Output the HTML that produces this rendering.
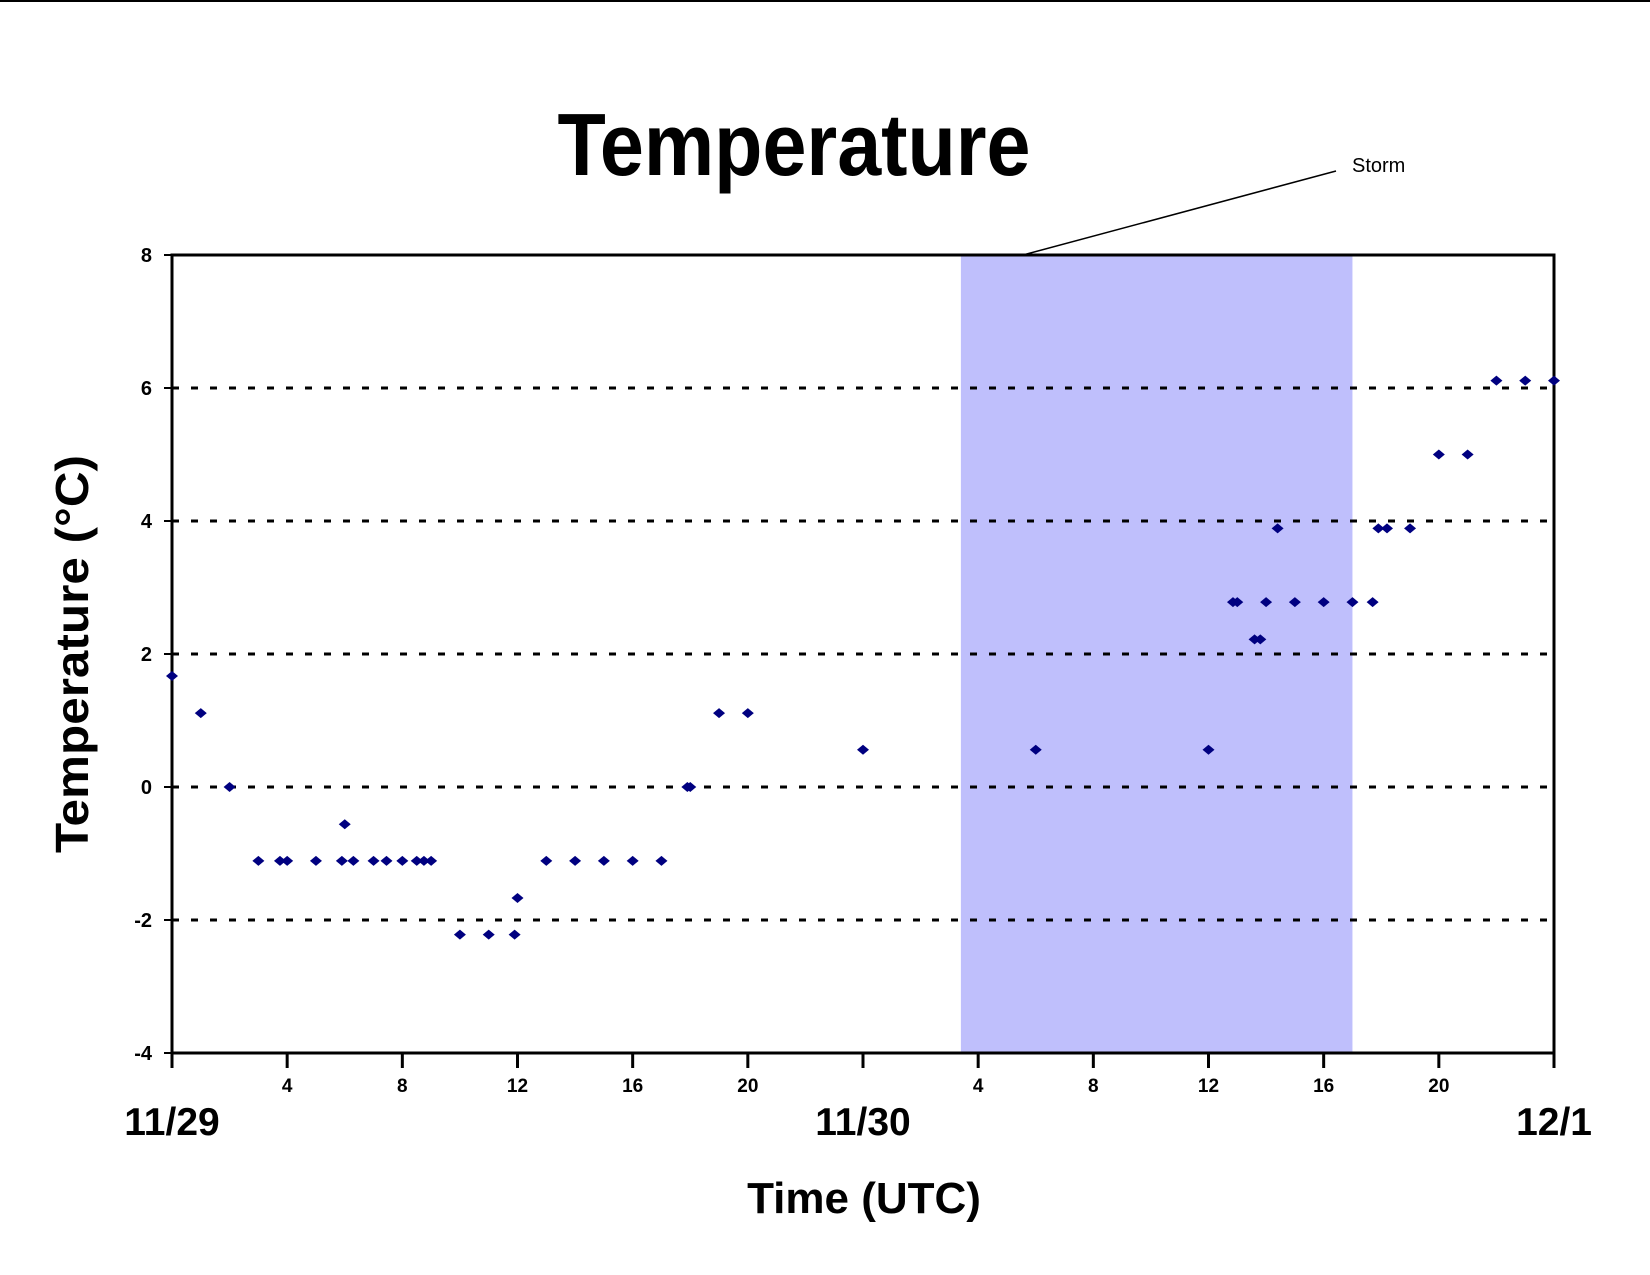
<!DOCTYPE html>
<html><head><meta charset="utf-8"><style>
html,body{margin:0;padding:0;background:#fff;}
svg{display:block;font-family:"Liberation Sans",Arial,sans-serif;}
</style></head><body>
<svg id="chart" width="1650" height="1275" viewBox="0 0 1650 1275">
<line x1="0" y1="1" x2="1650" y2="1" stroke="#000" stroke-width="2"/>
<text x="794" y="175" text-anchor="middle" font-size="88" font-weight="bold" textLength="473" lengthAdjust="spacingAndGlyphs">Temperature</text>
<g id="plot"></g>
<text x="864" y="1213" text-anchor="middle" font-size="44" font-weight="bold">Time (UTC)</text>
<text transform="translate(88,654) rotate(-90)" text-anchor="middle" font-size="46" font-weight="bold" textLength="398" lengthAdjust="spacingAndGlyphs">Temperature (°C)</text>
</svg>
<script>
const hours = [0,1,2,3,3.75,4,5,5.9,6,6.3,7,7.45,8,8.5,8.75,9,10,11,11.9,12,13,14,15,16,17,17.9,18,19,20,24,30,36,36.85,37,37.6,37.8,38,38.4,39,40,41,41.7,41.9,42.2,43,44,45,46,47,48];
const temps = [1.67,1.11,0,-1.11,-1.11,-1.11,-1.11,-1.11,-0.56,-1.11,-1.11,-1.11,-1.11,-1.11,-1.11,-1.11,-2.22,-2.22,-2.22,-1.67,-1.11,-1.11,-1.11,-1.11,-1.11,0,0,1.11,1.11,0.56,0.56,0.56,2.78,2.78,2.22,2.22,2.78,3.89,2.78,2.78,2.78,2.78,3.89,3.89,3.89,5,5,6.11,6.11,6.11];
const yTicks = [8,6,4,2,0,-2,-4];
const gridValues = [6,4,2,0,-2];
const xTickHours = [0,4,8,12,16,20,24,28,32,36,40,44,48];
const xTickLabels = ["","4","8","12","16","20","","4","8","12","16","20",""];
const dateHours = [0,24,48];
const dateLabels = ["11/29","11/30","12/1"];
const storm = [27.4,41];

const L=172,R=1554,T=255,B=1053,X0=0,X1=48,Y0=-4,Y1=8;
const sx=h=>L+(h-X0)/(X1-X0)*(R-L);
const sy=v=>B-(v-Y0)/(Y1-Y0)*(B-T);
const NS="http://www.w3.org/2000/svg";
const g=document.getElementById('plot');
function mk(tag,attrs,txt){const e=document.createElementNS(NS,tag);for(const k in attrs)e.setAttribute(k,attrs[k]);if(txt!==undefined)e.textContent=txt;g.appendChild(e);return e;}

let e=mk('rect',{x:sx(storm[0]),y:T,width:sx(storm[1])-sx(storm[0]),height:B-T,fill:'#bfbffc'});



gridValues.forEach(v=>{
  const ln=mk('line',{x1:L,y1:sy(v),x2:R,y2:sy(v),stroke:'#000','stroke-width':3,'stroke-dasharray':'7 12'});
  
  
});

e=mk('rect',{x:L,y:T,width:R-L,height:B-T,fill:'none',stroke:'#000','stroke-width':3});



yTicks.forEach(v=>{
  const t=mk('line',{x1:L-8,y1:sy(v),x2:L,y2:sy(v),stroke:'#000','stroke-width':2});
  
  
  const lb=mk('text',{x:152,y:sy(v)+7,'text-anchor':'end','font-size':20,'font-weight':'bold'},String(v));
  
  
});

xTickHours.forEach((h,i)=>{
  const t=mk('line',{x1:sx(h),y1:B,x2:sx(h),y2:B+15,stroke:'#000','stroke-width':3});
  
  
  if(xTickLabels[i]){
    const lb=mk('text',{x:sx(h),y:1092,'text-anchor':'middle','font-size':19,'font-weight':'bold'},xTickLabels[i]);
    
    
  }
});

dateHours.forEach((h,i)=>{
  const anchor=i===dateHours.length-1?'end':'middle';
  const x=i===dateHours.length-1?1592:sx(h);
  const lb=mk('text',{x:x,y:1135,'text-anchor':anchor,'font-size':39,'font-weight':'bold'},dateLabels[i]);
  
  
});

hours.forEach((h,i)=>{
  const x=sx(h),y=sy(temps[i]);
  const p=mk('polygon',{points:`${x-6},${y} ${x},${y-5} ${x+6},${y} ${x},${y+5}`,fill:'#000080'});
  
  
});

e=mk('line',{x1:1023,y1:255,x2:1336,y2:171,stroke:'#000','stroke-width':1.5});


e=mk('text',{x:1352,y:172,'font-size':20},'Storm');


</script>
</body></html>
